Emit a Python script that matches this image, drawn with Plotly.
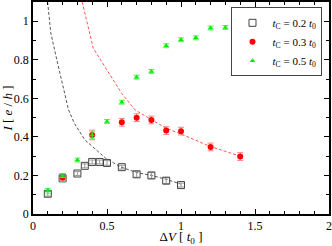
import plotly.graph_objects as go

# data: t_C = 0.2 t0 (open squares)
x_02 = [0.1, 0.2, 0.3, 0.35, 0.4, 0.45, 0.5, 0.6, 0.7, 0.8, 0.9, 1.0]
y_02 = [0.105, 0.185, 0.21, 0.25, 0.27, 0.27, 0.265, 0.243, 0.206, 0.20, 0.173, 0.15]
e_02 = [0.012, 0.01, 0.01, 0.01, 0.01, 0.01, 0.012, 0.01, 0.015, 0.015, 0.015, 0.01]

# t_C = 0.3 t0 (red circles)
x_03 = [0.2, 0.4, 0.6, 0.7, 0.8, 0.9, 1.0, 1.2, 1.4]
y_03 = [0.19, 0.41, 0.476, 0.50, 0.488, 0.433, 0.43, 0.348, 0.298]
e_03 = [0.02, 0.025, 0.02, 0.02, 0.02, 0.02, 0.02, 0.02, 0.02]

# t_C = 0.5 t0 (green triangles)
x_05 = [0.1, 0.2, 0.3, 0.4, 0.5, 0.6, 0.7, 0.8, 0.9, 1.0, 1.1, 1.2, 1.3, 1.4]
y_05 = [0.12, 0.2, 0.28, 0.41, 0.48, 0.58, 0.71, 0.74, 0.873, 0.904, 0.914, 0.965, 0.968, 0.963]
e_05 = [0.012, 0.01, 0.01, 0.02, 0.01, 0.01, 0.01, 0.01, 0.01, 0.01, 0.01, 0.01, 0.01, 0.025]

# fit curves (dashed)
fx_02 = [0.099, 0.12, 0.155, 0.205, 0.24, 0.28, 0.35, 0.49, 0.59, 0.7, 0.8, 0.9, 1.0]
fy_02 = [1.1, 0.94, 0.82, 0.645, 0.54, 0.47, 0.385, 0.29, 0.245, 0.215, 0.2, 0.18, 0.155]
fx_03 = [0.333, 0.407, 0.6, 0.69, 0.8, 0.9, 1.0, 1.2, 1.4]
fy_03 = [1.1, 0.86, 0.625, 0.54, 0.49, 0.445, 0.415, 0.35, 0.3]

x_ticks = [0, 0.5, 1, 1.5, 2]
x_labels = ["0", "0.5", "1", "1.5", "2"]
y_ticks = [0, 0.2, 0.4, 0.6, 0.8, 1]
y_labels = ["0", "0.2", "0.4", "0.6", "0.8", "1"]

serif = "Liberation Serif"

fig = go.Figure()
fig.add_trace(go.Scatter(x=fx_02, y=fy_02, mode="lines", showlegend=False,
                         line=dict(color="#555555", width=1, dash="3px,2px")))
fig.add_trace(go.Scatter(x=fx_03, y=fy_03, mode="lines", showlegend=False,
                         line=dict(color="#ff5555", width=1, dash="3px,2px")))

fig.add_trace(go.Scatter(
    x=x_02, y=y_02, mode="markers",
    name="<i>t</i><sub>C</sub> = 0.2 <i>t</i><sub>0</sub>",
    marker=dict(symbol="square-open", size=7, color="#444444", line=dict(width=1)),
    error_y=dict(type="data", array=e_02, color="#999999", thickness=1, width=3)))
fig.add_trace(go.Scatter(
    x=x_03, y=y_03, mode="markers",
    name="<i>t</i><sub>C</sub> = 0.3 <i>t</i><sub>0</sub>",
    marker=dict(symbol="circle", size=6, color="#ff0000"),
    error_y=dict(type="data", array=e_03, color="#ff8080", thickness=1, width=3)))
fig.add_trace(go.Scatter(
    x=x_05, y=y_05, mode="markers",
    name="<i>t</i><sub>C</sub> = 0.5 <i>t</i><sub>0</sub>",
    marker=dict(symbol="triangle-up", size=5, color="#00ee00"),
    error_y=dict(type="data", array=e_05, color="#55ee55", thickness=1, width=3)))

axis_common = dict(
    showgrid=False, zeroline=False, showline=True, linecolor="black", linewidth=1.5,
    mirror="allticks", ticks="inside", ticklen=5, tickcolor="black",
    tickfont=dict(family=serif, size=12, color="black"), automargin=False,
)
fig.update_xaxes(range=[0, 2], tickvals=x_ticks, ticktext=x_labels,
                 minor=dict(dtick=0.1, ticks="inside", ticklen=3, tickcolor="black"),
                 title=dict(text="Δ<i>V</i> [ <i>t</i><sub>0</sub> ]",
                            font=dict(family=serif, size=13, color="black"), standoff=2),
                 **axis_common)
fig.update_yaxes(range=[0, 1.1], tickvals=y_ticks, ticktext=y_labels,
                 minor=dict(dtick=0.1, ticks="inside", ticklen=3, tickcolor="black"),
                 title=dict(text="<i>I</i> [ <i>e</i> / <i>h</i> ]",
                            font=dict(family=serif, size=13, color="black"), standoff=2),
                 **axis_common)

fig.update_layout(
    width=332, height=246,
    margin=dict(l=33, r=3, t=2, b=32, autoexpand=False),
    paper_bgcolor="white", plot_bgcolor="white",
    legend=dict(x=0.978, y=0.975, xanchor="right", yanchor="top",
                bgcolor="white", bordercolor="#444444", borderwidth=1,
                font=dict(family=serif, size=11, color="black"),
                itemwidth=30, tracegroupgap=0),
)

fig.write_html("out.html", config={"displayModeBar": False},
               post_script="document.body.style.margin='0';document.body.style.overflow='hidden';")
